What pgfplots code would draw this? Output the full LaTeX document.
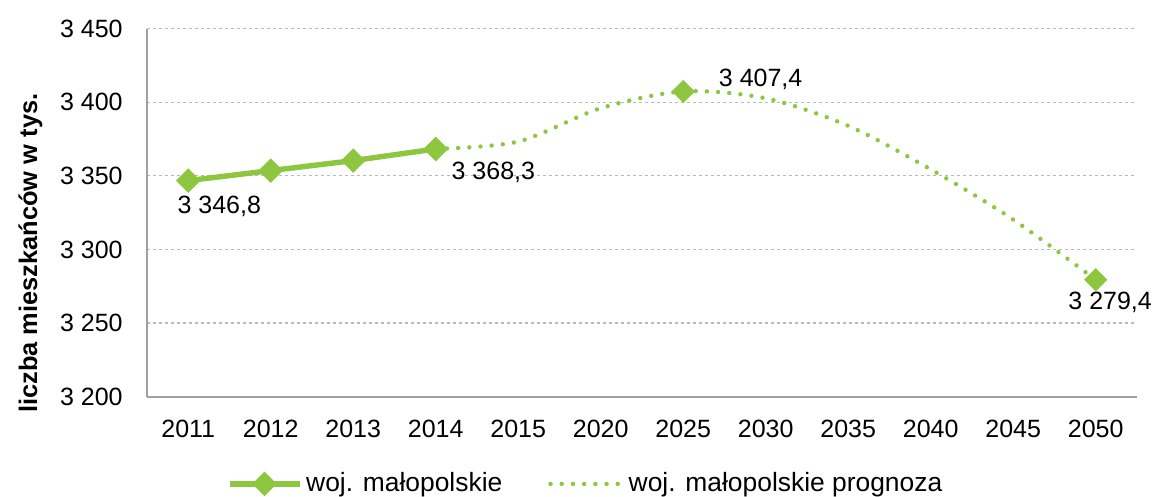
\documentclass[border=0pt]{standalone}
\usepackage{fontspec}
\setmainfont{Liberation Sans}
\usepackage{pgfplots}
\pgfplotsset{compat=1.18}
\definecolor{grn}{RGB}{141,198,63}
\definecolor{axgray}{RGB}{160,160,160}
\definecolor{gridgray}{RGB}{185,185,185}
\newcommand\fs{\fontsize{12.5}{15}\selectfont}
\begin{document}
\begin{tikzpicture}
\useasboundingbox (-73.5pt,-50.15pt) rectangle (505.5pt,198.35pt);
\begin{axis}[
  scale only axis, width=495pt, height=184pt,
  xmin=-0.5, xmax=11.5, ymin=3200, ymax=3450,
  clip=false,
  axis x line*=bottom, axis y line*=left,
  axis line style={axgray, line width=1pt, -},
  xtick={0,...,11},
  xticklabels={2011,2012,2013,2014,2015,2020,2025,2030,2035,2040,2045,2050},
  ytick={3200,3250,3300,3350,3400,3450},
  yticklabels={3~200,3~250,3~300,3~350,3~400,3~450},
  major tick length=0pt,
  ymajorgrids,
  grid style={gridgray, dash pattern=on 1.5pt off 1.5pt, line width=0.6pt},
  tick label style={font=\fs, inner sep=0pt},
  xticklabel style={anchor=north, yshift=-11.7pt},
  yticklabel style={anchor=east, xshift=-12pt},
  ylabel={liczba mieszkańców w tys.},
  every axis y label/.style={at={(axis description cs:0,0.39)}, xshift=-58.3pt, rotate=90, anchor=center, inner sep=0pt, font=\fontsize{12.7}{15}\selectfont\bfseries},
  legend style={at={(axis description cs:0.444,-0.237)}, anchor=center, draw=none, legend columns=2, font=\fontsize{13.2}{15}\selectfont, /tikz/every even column/.append style={column sep=21pt}},
  legend cell align=left,
]
\addplot[grn, line width=2.7pt, mark=square*, mark size=3pt, mark options={rotate=45, solid},
  legend image code/.code={\draw[mark repeat=2,mark phase=2] plot coordinates {(0pt,0pt)(17.5pt,0pt)(35pt,0pt)};}]
  coordinates {(0,3346.8) (1,3353.6) (2,3360.4) (3,3368.3)};
\addlegendentry{woj. małopolskie}
\addplot[grn, line width=2.2pt, dash pattern=on 0pt off 5.6pt, line cap=round, smooth, tension=0.5,
  mark=square*, mark size=3pt, mark options={rotate=45, solid}, mark indices={4,9},
  legend image code/.code={\draw (1pt,0pt) -- (37pt,0pt);}]
  coordinates {(3,3368.3) (4,3373.3) (5,3396.0) (6,3407.4) (7,3402.7) (8,3384.0) (9,3354.4) (10,3320.3) (11,3279.4)};
\addlegendentry{woj. małopolskie prognoza}
\node[anchor=base, font=\fs, inner sep=0pt, xshift=15.5pt, yshift=-16.6pt] at (axis cs:0,3346.8) {3 346,8};
\node[anchor=base, font=\fs, inner sep=0pt, xshift=28.8pt, yshift=-15.2pt] at (axis cs:3,3368.3) {3 368,3};
\node[anchor=base, font=\fs, inner sep=0pt, xshift=38.7pt, yshift=2.5pt] at (axis cs:6,3407.4) {3 407,4};
\node[anchor=base, font=\fs, inner sep=0pt, xshift=7.2pt, yshift=-14.6pt] at (axis cs:11,3279.4) {3 279,4};
\end{axis}
\end{tikzpicture}
\end{document}
